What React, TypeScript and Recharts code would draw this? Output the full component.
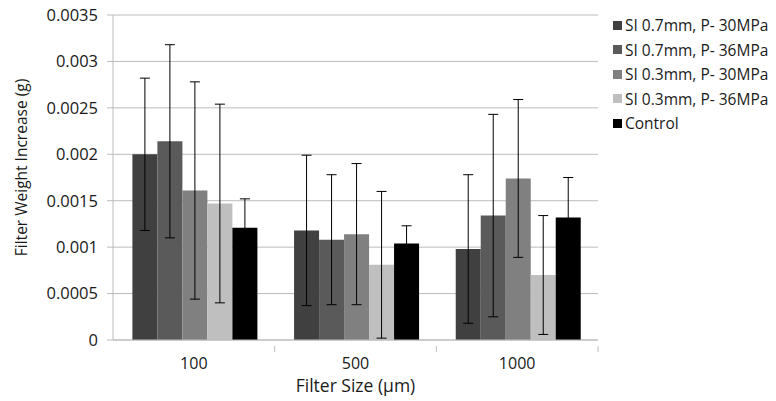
import { BarChart, Bar, XAxis, YAxis, CartesianGrid, ErrorBar } from "recharts";

// Filter sizes (µm)
const sizes = ["100", "500", "1000"];

// mean filter weight increase (g) per condition
const si07p30 = [0.002, 0.00118, 0.00098];
const si07p36 = [0.00214, 0.00108, 0.00134];
const si03p30 = [0.00161, 0.00114, 0.00174];
const si03p36 = [0.00147, 0.00081, 0.0007];
const control = [0.00121, 0.00104, 0.00132];

// +/- error (g)
const si07p30Err = [0.00082, 0.00081, 0.0008];
const si07p36Err = [0.00104, 0.0007, 0.00109];
const si03p30Err = [0.00117, 0.00076, 0.00085];
const si03p36Err = [0.00107, 0.00079, 0.00064];
const controlErr = [0.00031, 0.00019, 0.00043];

const series = [
  { key: "a", name: "SI 0.7mm, P- 30MPa", color: "#404040", vals: si07p30, err: si07p30Err },
  { key: "b", name: "SI 0.7mm, P- 36MPa", color: "#5a5a5a", vals: si07p36, err: si07p36Err },
  { key: "c", name: "SI 0.3mm, P- 30MPa", color: "#808080", vals: si03p30, err: si03p30Err },
  { key: "d", name: "SI 0.3mm, P- 36MPa", color: "#bfbfbf", vals: si03p36, err: si03p36Err },
  { key: "e", name: "Control", color: "#000000", vals: control, err: controlErr },
];

const yTicks = [0, 0.0005, 0.001, 0.0015, 0.002, 0.0025, 0.003, 0.0035];

const data = sizes.map((s, i) => {
  const row: Record<string, string | number> = { size: s };
  series.forEach((sr) => {
    row[sr.key] = sr.vals[i];
    row[sr.key + "Err"] = sr.err[i];
  });
  return row;
});

const FONT = "'Open Sans', 'DejaVu Sans', sans-serif";
const AXIS_GRAY = "#bcbcbc";
const TEXT = "#1a1a1a";

// category tick: label in the middle, tick marks on the band edges (Excel style)
function SizeTick(props: any) {
  const { x, y, payload, index, width } = props;
  const band = (width || 485) / sizes.length;
  const left = x - band / 2;
  const right = x + band / 2;
  return (
    <g>
      {index > 0 && <line x1={left} x2={left} y1={y - 2} y2={y + 4} stroke={AXIS_GRAY} />}
      {index === sizes.length - 1 && <line x1={right} x2={right} y1={y - 2} y2={y + 4} stroke={AXIS_GRAY} />}
      <text x={x} y={y + 21} textAnchor="middle" fontSize={16} fill={TEXT} fontFamily={FONT}>
        {payload.value}
      </text>
    </g>
  );
}

export default function App() {
  return (
    <div style={{ position: "absolute", left: 0, top: 0, width: 776, height: 401, background: "#fff" }}>
      <BarChart
        width={776}
        height={401}
        data={data}
        margin={{ top: 15, right: 178, left: 0, bottom: 0 }}
        barCategoryGap="12%"
        barGap={0}
      >
        <CartesianGrid vertical={false} stroke={AXIS_GRAY} />
        <XAxis
          dataKey="size"
          height={61}
          axisLine={{ stroke: AXIS_GRAY }}
          tickLine={false}
          tick={<SizeTick />}
          interval={0}
          label={{
            value: "Filter Size (µm)",
            position: "insideBottom",
            offset: 9,
            style: { fontSize: 17.5, fill: TEXT, fontFamily: FONT },
          }}
        />
        <YAxis
          width={113}
          domain={[0, 0.0035]}
          ticks={yTicks}
          interval={0}
          axisLine={{ stroke: AXIS_GRAY }}
          tickLine={{ stroke: AXIS_GRAY }}
          tickSize={6}
          tickMargin={9}
          tick={{ fontSize: 16.5, fill: TEXT, fontFamily: FONT }}
          label={{
            value: "Filter Weight Increase (g)",
            angle: -90,
            position: "center",
            dx: -35,
            dy: -10,
            style: { fontSize: 15.5, fill: TEXT, fontFamily: FONT, textAnchor: "middle" },
          }}
        />
        {series.map((sr) => (
          <Bar key={sr.key} dataKey={sr.key} name={sr.name} fill={sr.color} isAnimationActive={false}>
            <ErrorBar dataKey={sr.key + "Err"} width={5} stroke="#000" strokeWidth={1} isAnimationActive={false} />
          </Bar>
        ))}
      </BarChart>
      <div style={{ position: "absolute", left: 613, top: 13, fontFamily: FONT, fontSize: 15.5, color: TEXT }}>
        {series.map((sr) => (
          <div key={sr.key} style={{ display: "flex", alignItems: "center", height: 24.5 }}>
            <span style={{ display: "inline-block", width: 9, height: 9, background: sr.color, marginRight: 3 }} />
            {sr.name}
          </div>
        ))}
      </div>
    </div>
  );
}
